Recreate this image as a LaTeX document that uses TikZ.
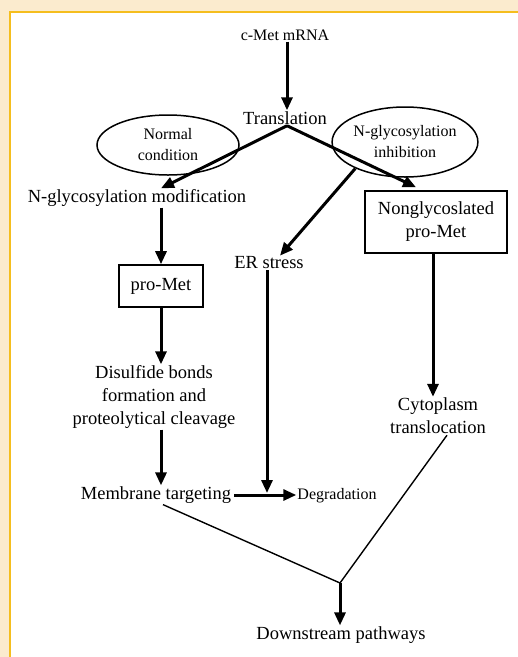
\documentclass[tikz,border=0pt]{standalone}
\usepackage{fontspec}
\setmainfont{Liberation Serif}
\usepackage{tikz}
\usetikzlibrary{arrows.meta,calc,shapes.geometric}
\definecolor{cream}{HTML}{FBEBCE}
\definecolor{goldline}{HTML}{F5BE1E}
\tikzset{
  >={Triangle[length=13pt,width=11pt]},
  lb/.style={inner sep=1pt,font=\fontsize{18.5}{23}\selectfont,align=center},
  sm/.style={inner sep=1pt,font=\fontsize{16}{21}\selectfont,align=center},
  bx/.style={lb,draw,line width=1.6pt,inner sep=0pt},
  el/.style={ellipse,draw,line width=1.5pt,inner sep=0pt,font=\fontsize{16}{21}\selectfont,align=center},
  a/.style={->,line width=3pt},
  ln/.style={line width=1.4pt},
}

\begin{document}
\begin{tikzpicture}[x=1pt,y=-1pt]
\useasboundingbox (0,0) rectangle (518,657);
\fill[cream] (0,0) rectangle (518,657);
\fill[white] (11,13) rectangle (518,657);
\fill[goldline] (9,11) rectangle (518,13); \fill[goldline] (9,11) rectangle (11,657);
% nodes
\node[sm] (mrna) at (285,35){c-Met mRNA}; \node[lb] (tr) at (285,118){Translation};
\node[el,minimum width=142pt,minimum height=60pt] (nc) at (168,145){Normal\\condition};
\node[el,minimum width=135pt,minimum height=70pt] (ni) at (405,142){N-glycosylation\\inhibition};
\node[lb] (ngm) at (137,198){N-glycosylation modification};
\node[bx,minimum width=142pt,minimum height=62pt] (nonp) at (436,222){Nonglycoslated\\pro-Met};
\node[bx,minimum width=84pt,minimum height=42pt] (pro) at (161,286){pro-Met};
\node[lb] (er) at (269,263){ER stress};
\node[lb] (dis) at (154,397){Disulfide bonds\\formation and\\proteolytical cleavage};
\node[lb] (cyt) at (438,416){Cytoplasm\\translocation};
\node[lb] (mem) at (156,495){Membrane targeting}; \node[sm] (deg) at (337,496){Degradation};
\node[lb] (down) at (341,635){Downstream pathways};
\coordinate (j) at (340,583);
% connectors
\draw[a] ([xshift=2pt]mrna.south) -- ([xshift=2pt]tr.north);
\draw[a] ([xshift=2pt]tr.south) -- (ngm.north -| pro.north);
\draw[a] ([xshift=2pt]tr.south) -- ([xshift=-20pt,yshift=3pt]nonp.north);
\draw[a] (ni.208) -- ([xshift=11pt]er.north);
\draw[a] (ngm.south -| pro.north) -- (pro.north);
\draw[a] (pro.south) -- (pro.south |- dis.north);
\draw[a] (dis.south -| pro.south) -- (mem.north -| pro.south);
\draw[a] ([xshift=2pt]mem.east) -- (mem.east -| deg.west);
\draw[a] ([xshift=-2pt]er.south) -- ([xshift=-2pt,yshift=2pt]er.south |- mem.east);
\draw[a] ([xshift=-3pt]nonp.south) -- ([xshift=-3pt]nonp.south |- cyt.north);
\draw[ln] ([xshift=7pt]mem.south) -- (j) -- ([xshift=9pt]cyt.south);
\draw[a] (j) -- (down.north -| j);
\end{tikzpicture}
\end{document}
